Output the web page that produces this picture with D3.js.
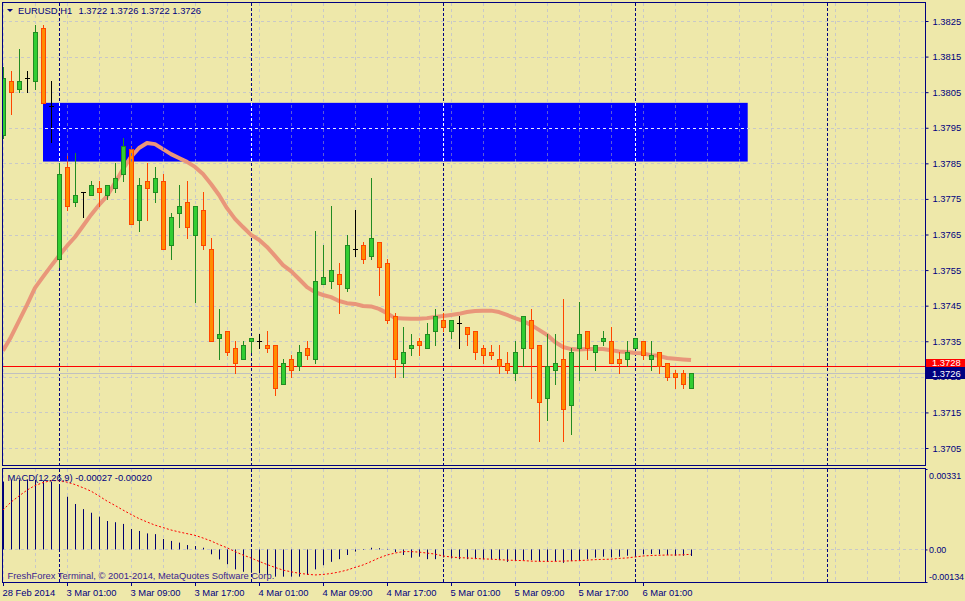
<!DOCTYPE html>
<html><head><meta charset="utf-8">
<script src="https://cdn.jsdelivr.net/npm/d3@7"></script>
<style>html,body{margin:0;padding:0;background:#eee8aa;} svg{display:block;}</style>
</head><body><svg id="c" width="965" height="601"></svg>
<script>
// ---------------- data ----------------
const timeTickIndex = [0,8,16,24,32,40,48,56,64,72,80];
const timeLabels = ["28 Feb 2014","3 Mar 01:00","3 Mar 09:00","3 Mar 17:00","4 Mar 01:00","4 Mar 09:00","4 Mar 17:00","5 Mar 01:00","5 Mar 09:00","5 Mar 17:00","6 Mar 01:00"];
const priceTicks = [1.3705,1.3715,1.3725,1.3735,1.3745,1.3755,1.3765,1.3775,1.3785,1.3795,1.3805,1.3815,1.3825];
const macdTicks = [0.00331,0,-0.00134];
const separatorIndex = [7,31,55,79,103];

const openP = [1.3793,1.3808,1.3806,1.3809,1.3808,1.3823,1.3801,1.3758,1.3784,1.3774,
 1.3777,1.3776,1.3778,1.3776,1.3778,1.3782,1.3789,1.3769,1.3780,1.3777,
 1.3780,1.3762,1.3771,1.3774,1.3765,1.3772,1.3761,1.3736,1.3738,1.3733,
 1.3730,1.3735,1.3735,1.3734,1.3734,1.3723,1.3730,1.3728,1.3733,1.3730,
 1.3751,1.3752,1.3754,1.3750,1.3761,1.3762,1.3759,1.3763,1.3757,1.3742,
 1.3729,1.3733,1.3735,1.3733,1.3738,1.3741,1.3738,1.3740,1.3739,1.3738,
 1.3733,1.3732,1.3730,1.3729,1.3726,1.3733,1.3741,1.3734,1.3719,1.3727,
 1.3730,1.3717,1.3733,1.3738,1.3732,1.3735,1.3735,1.3730,1.3730,1.3733,
 1.3735,1.3730,1.3732,1.3729,1.3726,1.3726,1.3722];
const highP = [1.3812,1.3811,1.3817,1.3811,1.3824,1.3824,1.3808,1.3785,1.3787,1.3788,
 1.3777,1.3780,1.3780,1.3779,1.3785,1.3792,1.3790,1.3781,1.3785,1.3784,
 1.3782,1.3771,1.3779,1.3780,1.3773,1.3777,1.3764,1.3744,1.3738,1.3735,
 1.3735,1.3736,1.3737,1.3738,1.3734,1.3730,1.3731,1.3734,1.3735,1.3766,
 1.3762,1.3773,1.3757,1.3765,1.3772,1.3763,1.3781,1.3763,1.3758,1.3743,
 1.3739,1.3737,1.3736,1.3740,1.3744,1.3743,1.3741,1.3742,1.3739,1.3738,
 1.3734,1.3734,1.3734,1.3732,1.3735,1.3742,1.3744,1.3734,1.3737,1.3737,
 1.3747,1.3733,1.3746,1.3738,1.3734,1.3738,1.3739,1.3732,1.3735,1.3736,
 1.3735,1.3735,1.3732,1.3729,1.3727,1.3727,1.3726];
const lowP = [1.3792,1.3799,1.3805,1.3805,1.3806,1.3802,1.3791,1.3756,1.3772,1.3773,
 1.3770,1.3776,1.3773,1.3775,1.3777,1.3780,1.3768,1.3766,1.3769,1.3774,
 1.3761,1.3758,1.3767,1.3764,1.3746,1.3761,1.3735,1.3730,1.3731,1.3726,
 1.3730,1.3732,1.3733,1.3732,1.3720,1.3723,1.3725,1.3727,1.3730,1.3729,
 1.3751,1.3750,1.3743,1.3749,1.3759,1.3757,1.3758,1.3748,1.3740,1.3725,
 1.3725,1.3731,1.3731,1.3733,1.3734,1.3738,1.3736,1.3733,1.3734,1.3730,
 1.3729,1.3730,1.3726,1.3726,1.3724,1.3728,1.3719,1.3707,1.3713,1.3723,
 1.3707,1.3709,1.3724,1.3730,1.3727,1.3734,1.3729,1.3726,1.3728,1.3733,
 1.3730,1.3727,1.3726,1.3724,1.3722,1.3722,1.3722];
const closeP = [1.3809,1.3805,1.3808,1.3809,1.3822,1.3802,1.3801,1.3782,1.3773,1.3776,
 1.3777,1.3779,1.3777,1.3779,1.3781,1.3790,1.3768,1.3779,1.3778,1.3781,
 1.3761,1.3770,1.3773,1.3767,1.3773,1.3762,1.3735,1.3737,1.3732,1.3729,
 1.3734,1.3736,1.3735,1.3733,1.3722,1.3729,1.3727,1.3732,1.3731,1.3752,
 1.3753,1.3755,1.3751,1.3762,1.3761,1.3758,1.3764,1.3756,1.3741,1.3730,
 1.3732,1.3734,1.3734,1.3737,1.3742,1.3739,1.3741,1.3740,1.3737,1.3732,
 1.3731,1.3731,1.3728,1.3727,1.3732,1.3742,1.3733,1.3718,1.3728,1.3729,
 1.3716,1.3732,1.3737,1.3733,1.3734,1.3736,1.3729,1.3729,1.3732,1.3736,
 1.3731,1.3731,1.3728,1.3725,1.3725,1.3723,1.3726];

const maValues = [1.37323,1.37362,1.37407,1.37452,1.37500,1.37531,1.37561,1.37590,1.37618,1.37643,
 1.37674,1.37705,1.37733,1.37758,1.37795,1.37834,1.37868,1.37893,1.37907,1.37904,
 1.37890,1.37876,1.37865,1.37854,1.37840,1.37820,1.37792,1.37761,1.37724,1.37694,
 1.37671,1.37649,1.37635,1.37615,1.37590,1.37564,1.37547,1.37525,1.37502,1.37488,
 1.37480,1.37474,1.37463,1.37457,1.37455,1.37449,1.37448,1.37441,1.37429,1.37415,
 1.37414,1.37413,1.37413,1.37415,1.37418,1.37421,1.37424,1.37427,1.37432,1.37435,
 1.37436,1.37436,1.37432,1.37424,1.37415,1.37407,1.37396,1.37382,1.37368,1.37348,
 1.37334,1.37328,1.37327,1.37328,1.37328,1.37328,1.37325,1.37321,1.37320,1.37317,
 1.37316,1.37311,1.37309,1.37303,1.37301,1.37299,1.37297];

const macdHist = [0.00279,0.00286,0.00288,0.00286,0.00286,0.00283,0.00279,0.00257,0.00217,0.00187,
 0.00166,0.00151,0.00135,0.00117,0.00112,0.00105,0.00084,0.00076,0.00066,0.00063,
 0.00043,0.00035,0.00028,0.00018,0.00014,0.00007,-0.00020,-0.00041,-0.00061,-0.00082,
 -0.00092,-0.00096,-0.00098,-0.00105,-0.00112,-0.00112,-0.00112,-0.00112,-0.00105,-0.00082,
 -0.00065,-0.00051,-0.00040,-0.00023,-0.00009,-0.00002,0.00007,0.00005,0.00002,-0.00011,
 -0.00023,-0.00034,-0.00030,-0.00040,-0.00040,-0.00033,-0.00037,-0.00040,-0.00040,-0.00040,
 -0.00041,-0.00041,-0.00044,-0.00051,-0.00048,-0.00044,-0.00044,-0.00048,-0.00051,-0.00048,
 -0.00055,-0.00048,-0.00044,-0.00040,-0.00034,-0.00030,-0.00033,-0.00030,-0.00026,-0.00023,
 -0.00020,-0.00019,-0.00020,-0.00023,-0.00026,-0.00026,-0.00027];
const macdSignal = [0.00162,0.00195,0.00220,0.00244,0.00263,0.00275,0.00283,0.00283,0.00277,0.00267,
 0.00254,0.00240,0.00220,0.00199,0.00181,0.00162,0.00144,0.00127,0.00113,0.00100,
 0.00090,0.00080,0.00072,0.00065,0.00058,0.00047,0.00035,0.00020,0.00007,-0.00009,
 -0.00023,-0.00035,-0.00049,-0.00062,-0.00074,-0.00085,-0.00092,-0.00098,-0.00102,-0.00105,
 -0.00103,-0.00099,-0.00093,-0.00085,-0.00074,-0.00064,-0.00050,-0.00035,-0.00023,-0.00015,
 -0.00009,-0.00009,-0.00011,-0.00015,-0.00019,-0.00027,-0.00031,-0.00034,-0.00035,-0.00037,
 -0.00039,-0.00040,-0.00042,-0.00044,-0.00045,-0.00046,-0.00048,-0.00049,-0.00049,-0.00049,
 -0.00048,-0.00047,-0.00046,-0.00044,-0.00042,-0.00041,-0.00040,-0.00037,-0.00035,-0.00031,
 -0.00027,-0.00025,-0.00024,-0.00023,-0.00023,-0.00022,-0.00020];

const zoneIndex = [5, 93];
const zonePrice = [1.37855, 1.3802];
const askPrice = 1.3728, bidPrice = 1.3726;

// ---------------- drawing ----------------
const FONT = "'Liberation Sans', Arial, sans-serif";
const FS = 9.4;
const NAVY = "#000080";
const svg = d3.select("#c");
const x = d3.scaleLinear().domain([0, 115]).range([3, 923]);
const y = d3.scaleLinear().domain([1.3705, 1.3825]).range([448, 21]);
const m = d3.scaleLinear().domain([-0.00134, 0.00331]).range([582, 469]);
const L = 3, R = 925, MT = 3, MB = 465, PT = 469, PB = 582;

svg.append("rect").attr("width",965).attr("height",601).attr("fill","#eee8aa");

const defs = svg.append("defs");
defs.append("clipPath").attr("id","clipMain").append("rect").attr("x",L).attr("y",MT).attr("width",R-L).attr("height",MB-MT);
defs.append("clipPath").attr("id","clipMacd").append("rect").attr("x",L).attr("y",PT).attr("width",R-L).attr("height",PB-PT);
const zx0 = x(zoneIndex[0]), zx1 = x(zoneIndex[1]) + 0.7, zy0 = y(zonePrice[1]), zy1 = y(zonePrice[0]);
defs.append("clipPath").attr("id","clipZone").append("rect").attr("x",zx0).attr("y",zy0).attr("width",zx1-zx0).attr("height",zy1-zy0);

const main = svg.append("g").attr("clip-path","url(#clipMain)");
const macd = svg.append("g").attr("clip-path","url(#clipMacd)");

// zone rectangle
main.append("rect").attr("x",zx0).attr("y",zy0).attr("width",zx1-zx0).attr("height",zy1-zy0).attr("fill","#0000ff");

// grid
const vGrid = d3.range(0, 116, 4);
const cr = v => Math.round(v) + 0.5;
function grid(g, top, bottom, hVals, sc, colV, colH){
  g.selectAll(null).data(hVals).join("line")
    .attr("x1",L).attr("x2",R).attr("y1",d=>cr(sc(d))).attr("y2",d=>cr(sc(d)))
    .attr("stroke",colH).attr("stroke-dasharray","3,3");
  g.selectAll(null).data(vGrid).join("line")
    .attr("x1",d=>cr(x(d))).attr("x2",d=>cr(x(d))).attr("y1",top).attr("y2",bottom)
    .attr("stroke",colV).attr("stroke-dasharray","3,3");
}
grid(main, MT, MB, priceTicks, y, "#c8c8c8", "#c8c8c8");
grid(macd, PT, PB, [0], m, "#c8c8c8", "#c8c8c8");
const zg = svg.append("g").attr("clip-path","url(#clipZone)");
grid(zg, MT, MB, priceTicks, y, "#5c5cd6", "#e8e8ff");

// separators
function seps(g, top, bottom, col){
  g.selectAll(null).data(separatorIndex).join("line")
    .attr("x1",d=>cr(x(d))).attr("x2",d=>cr(x(d))).attr("y1",top).attr("y2",bottom)
    .attr("stroke",col).attr("stroke-dasharray","3,2");
}
seps(main, MT, MB, NAVY);
seps(macd, PT, PB, NAVY);
seps(zg, MT, MB, "#ffffff");

// moving average
main.append("path").datum(maValues)
  .attr("d", d3.line().x((d,i)=>x(i)).y(d=>y(d)))
  .attr("fill","none").attr("stroke","#e9967a").attr("stroke-width",4).attr("stroke-linejoin","round");

// bid / ask lines
main.append("line").attr("x1",L).attr("x2",R).attr("y1",cr(y(bidPrice))).attr("y2",cr(y(bidPrice))).attr("stroke","#c0c0c0");
main.append("line").attr("x1",L).attr("x2",R).attr("y1",cr(y(askPrice))).attr("y2",cr(y(askPrice))).attr("stroke","#ff0000");

// candles
const candles = main.append("g");
openP.forEach((o,i)=>{
  const c = closeP[i], h = highP[i], l = lowP[i];
  const cx = Math.round(x(i));
  let border, fill;
  if (c > o) { border = "#228b22"; fill = "#32cd32"; }
  else if (c < o) { border = "#ff4500"; fill = "#ff8c00"; }
  else { border = "#000000"; fill = null; }
  candles.append("line").attr("x1",cx+0.5).attr("x2",cx+0.5)
    .attr("y1",Math.round(y(h))).attr("y2",Math.round(y(l))+1).attr("stroke",border);
  if (fill) {
    const t = Math.round(y(Math.max(o,c))) + 0.5, b = Math.round(y(Math.min(o,c))) + 0.5;
    candles.append("rect").attr("x",cx-1.5).attr("y",t).attr("width",4).attr("height",Math.max(b-t,1))
      .attr("fill",fill).attr("stroke",border);
  } else {
    const t = Math.round(y(o)) + 0.5;
    candles.append("line").attr("x1",cx-2).attr("x2",cx+3).attr("y1",t).attr("y2",t).attr("stroke",border);
  }
});

// MACD histogram + signal
macd.selectAll(null).data(macdHist).join("line")
  .attr("x1",(d,i)=>cr(x(i))).attr("x2",(d,i)=>cr(x(i)))
  .attr("y1",m(0)).attr("y2",d=>m(d)).attr("stroke","#000070").attr("stroke-width",1);
macd.append("path").datum(macdSignal)
  .attr("d", d3.line().x((d,i)=>x(i)).y(d=>m(d)))
  .attr("fill","none").attr("stroke","#ff0000").attr("stroke-width",1).attr("stroke-dasharray","2,2");

// frames
svg.append("rect").attr("x",2.5).attr("y",2.5).attr("width",R-2).attr("height",MB-2).attr("fill","none").attr("stroke",NAVY);
svg.append("rect").attr("x",2.5).attr("y",PT-0.5).attr("width",R-2).attr("height",PB-PT+1).attr("fill","none").attr("stroke",NAVY);

// price axis
const pAx = svg.append("g").attr("transform",`translate(${R+0.5},0)`)
  .call(d3.axisRight(y).tickValues(priceTicks).tickSize(3).tickPadding(4).tickFormat(d3.format(".4f")));
pAx.select(".domain").remove();
pAx.selectAll("line").attr("stroke",NAVY);
pAx.selectAll("text").attr("fill",NAVY).attr("font-family",FONT).attr("font-size",FS);

// macd axis
const mAx = svg.append("g").attr("transform",`translate(${R+0.5},0)`)
  .call(d3.axisRight(m).tickValues(macdTicks).tickSize(2).tickPadding(1.5)
    .tickFormat(d => d === 0 ? "0.00" : d.toFixed(5)));
mAx.select(".domain").remove();
mAx.selectAll("line").attr("stroke",NAVY);
mAx.selectAll("text").attr("fill",NAVY).attr("font-family",FONT).attr("font-size",8.9)
  .attr("dy", d => d > 0 ? "1.05em" : (d < 0 ? "-0.25em" : "0.32em"));

// time axis
const tAx = svg.append("g").attr("transform",`translate(0,${PB})`)
  .call(d3.axisBottom(x).tickValues(timeTickIndex).tickSize(4)
    .tickFormat((d,i)=>timeLabels[i]));
tAx.select(".domain").remove();
tAx.selectAll("line").attr("stroke",NAVY);
tAx.selectAll("text").attr("fill",NAVY).attr("font-family",FONT).attr("font-size",FS)
  .attr("text-anchor","start").attr("x",-1).attr("y",14).attr("dy",0);

// header
svg.append("path").attr("d","M7,9 L13,9 L10,12 Z").attr("fill",NAVY);
svg.append("text").attr("x",18).attr("y",14).attr("fill",NAVY).attr("font-family",FONT).attr("font-size",FS).text("EURUSD,H1");
svg.append("text").attr("x",78.5).attr("y",14).attr("fill",NAVY).attr("font-family",FONT).attr("font-size",FS)
  .text(`${openP[86].toFixed(4)} ${highP[86].toFixed(4)} ${lowP[86].toFixed(4)} ${closeP[86].toFixed(4)}`);
svg.append("text").attr("x",7.5).attr("y",480.5).attr("fill",NAVY).attr("font-family",FONT).attr("font-size",FS)
  .text(`MACD(12,26,9) ${macdHist[86].toFixed(5)} ${macdSignal[86].toFixed(5)}`);
svg.append("text").attr("x",7.5).attr("y",578.5).attr("fill","#3a1f8f").attr("font-family",FONT).attr("font-size",FS)
  .text("FreshForex Terminal, © 2001-2014, MetaQuotes Software Corp.");

// price boxes (ask above, bid below)
svg.append("rect").attr("x",R+1).attr("y",359).attr("width",965-R).attr("height",8).attr("fill","#ff0000");
svg.append("text").attr("x",R+7).attr("y",366).attr("fill","#ffffff")
  .attr("font-family",FONT).attr("font-size",FS).text(askPrice.toFixed(4));
svg.append("rect").attr("x",R+1).attr("y",367).attr("width",965-R).attr("height",12).attr("fill",NAVY);
svg.append("text").attr("x",R+7).attr("y",y(bidPrice)).attr("dy","0.35em").attr("fill","#ffffff")
  .attr("font-family",FONT).attr("font-size",FS).text(bidPrice.toFixed(4));
</script>
</body></html>
